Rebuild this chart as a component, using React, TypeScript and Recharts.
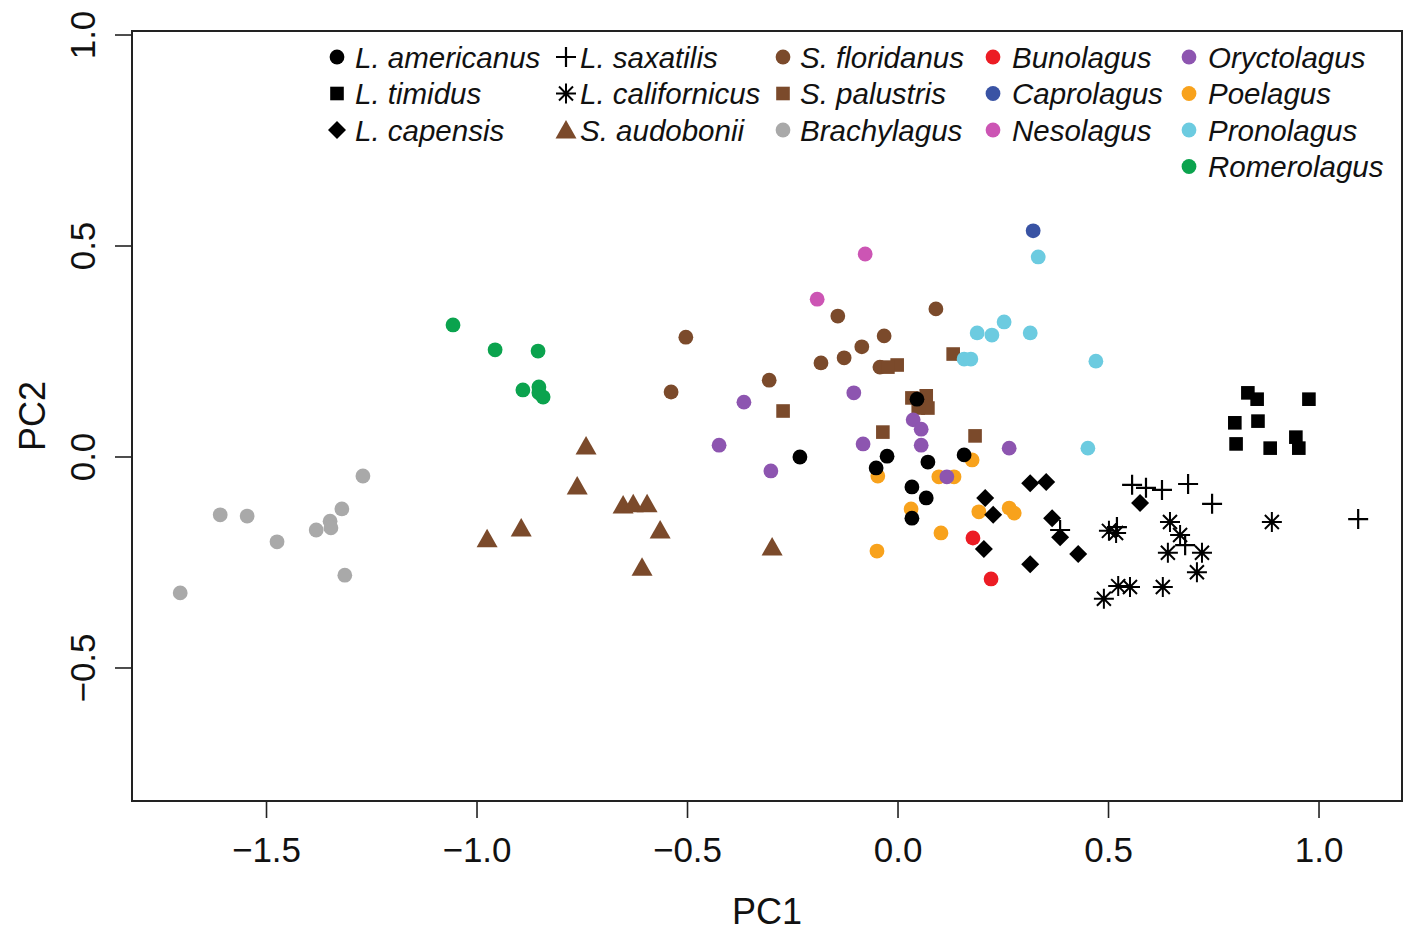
import React from 'react';
import { ScatterChart, Scatter, XAxis, YAxis, Legend, Label, ReferenceArea } from 'recharts';

type Pt = [number, number];

// ---- data (PC1, PC2) ----
const brachylagus: Pt[] = [
  [-1.705, -0.322], [-1.61, -0.137], [-1.546, -0.14], [-1.475, -0.201], [-1.382, -0.173],
  [-1.349, -0.152], [-1.347, -0.168], [-1.321, -0.123], [-1.314, -0.28], [-1.271, -0.045],
];
const romerolagus: Pt[] = [
  [-1.057, 0.313], [-0.957, 0.254], [-0.855, 0.251], [-0.891, 0.159], [-0.853, 0.166],
  [-0.853, 0.152], [-0.843, 0.142],
];
const sAudobonii: Pt[] = [
  [-0.741, 0.026], [-0.762, -0.069], [-0.976, -0.194], [-0.895, -0.168], [-0.653, -0.114],
  [-0.629, -0.111], [-0.596, -0.111], [-0.565, -0.173], [-0.608, -0.261], [-0.299, -0.213],
];
const sFloridanus: Pt[] = [
  [-0.504, 0.284], [-0.539, 0.154], [-0.306, 0.182], [-0.183, 0.223], [-0.143, 0.334],
  [-0.128, 0.235], [-0.086, 0.261], [-0.033, 0.287], [-0.043, 0.213], [0.09, 0.351],
];
const sPalustris: Pt[] = [
  [-0.273, 0.109], [-0.036, 0.059], [-0.002, 0.218], [-0.024, 0.213], [0.131, 0.244],
  [0.033, 0.14], [0.067, 0.145], [0.071, 0.116], [0.048, 0.116], [0.183, 0.05],
];
const bunolagus: Pt[] = [[0.178, -0.192], [0.221, -0.289]];
const caprolagus: Pt[] = [[0.321, 0.536]];
const nesolagus: Pt[] = [[-0.192, 0.374], [-0.078, 0.481]];
const poelagus: Pt[] = [
  [-0.048, -0.045], [-0.05, -0.223], [0.031, -0.123], [0.102, -0.18], [0.097, -0.047],
  [0.133, -0.047], [0.176, -0.007], [0.192, -0.13], [0.264, -0.121], [0.276, -0.133],
];
const oryctolagus: Pt[] = [
  [-0.366, 0.13], [-0.425, 0.028], [-0.302, -0.033], [-0.105, 0.152], [-0.083, 0.031],
  [0.036, 0.088], [0.055, 0.066], [0.055, 0.028], [0.116, -0.047], [0.264, 0.021],
];
const pronolagus: Pt[] = [
  [0.333, 0.474], [0.188, 0.294], [0.223, 0.289], [0.252, 0.32], [0.314, 0.294],
  [0.157, 0.232], [0.173, 0.232], [0.47, 0.227], [0.451, 0.021],
];
const lAmericanus: Pt[] = [
  [-0.233, 0.0], [-0.052, -0.026], [-0.026, 0.002], [0.045, 0.137], [0.033, -0.071],
  [0.067, -0.097], [0.033, -0.145], [0.071, -0.012], [0.157, 0.005],
];
const lTimidus: Pt[] = [
  [0.831, 0.152], [0.853, 0.137], [0.976, 0.137], [0.8, 0.081], [0.855, 0.085],
  [0.945, 0.047], [0.952, 0.021], [0.803, 0.031], [0.884, 0.021],
];
const lCapensis: Pt[] = [
  [0.207, -0.097], [0.226, -0.137], [0.204, -0.218], [0.314, -0.062], [0.352, -0.059],
  [0.366, -0.145], [0.385, -0.19], [0.428, -0.23], [0.314, -0.254], [0.575, -0.109],
];
const lSaxatilis: Pt[] = [
  [0.556, -0.066], [0.589, -0.073], [0.627, -0.078], [0.689, -0.064], [0.746, -0.111],
  [1.093, -0.147], [0.385, -0.173], [0.52, -0.166], [0.682, -0.209],
];
const lCalifornicus: Pt[] = [
  [0.501, -0.175], [0.518, -0.18], [0.646, -0.154], [0.67, -0.185], [0.641, -0.227],
  [0.722, -0.227], [0.71, -0.273], [0.629, -0.308], [0.523, -0.306], [0.551, -0.308],
  [0.489, -0.336], [0.888, -0.154],
];

const xTicks = [-1.5, -1.0, -0.5, 0.0, 0.5, 1.0];
const yTicks = [-0.5, 0.0, 0.5, 1.0];
const X_DOMAIN: [number, number] = [-1.8195, 1.1971];
const Y_DOMAIN: [number, number] = [-0.8152, 1.0095];

const legendColumns: string[][] = [
  ['L. americanus', 'L. timidus', 'L. capensis'],
  ['L. saxatilis', 'L. californicus', 'S. audobonii'],
  ['S. floridanus', 'S. palustris', 'Brachylagus'],
  ['Bunolagus', 'Caprolagus', 'Nesolagus'],
  ['Oryctolagus', 'Poelagus', 'Pronolagus', 'Romerolagus'],
];

// ---- styles ----
const BLACK = '#000000';
const BROWN = '#7b4a2b';
const GRAY = '#a9a9a9';
const RED = '#ec1c24';
const BLUE = '#3953a4';
const MAGENTA = '#cc55b4';
const PURPLE = '#8d55b0';
const ORANGE = '#f8a21c';
const LIGHTBLUE = '#6ccbe0';
const GREEN = '#0ba34e';

type Kind = 'circle' | 'square' | 'diamond' | 'triangle' | 'plus' | 'asterisk';

interface Series {
  name: string;
  pts: Pt[];
  kind: Kind;
  color: string;
}

const series: Series[] = [
  { name: 'Brachylagus', pts: brachylagus, kind: 'circle', color: GRAY },
  { name: 'Romerolagus', pts: romerolagus, kind: 'circle', color: GREEN },
  { name: 'S. audobonii', pts: sAudobonii, kind: 'triangle', color: BROWN },
  { name: 'S. floridanus', pts: sFloridanus, kind: 'circle', color: BROWN },
  { name: 'S. palustris', pts: sPalustris, kind: 'square', color: BROWN },
  { name: 'Bunolagus', pts: bunolagus, kind: 'circle', color: RED },
  { name: 'Caprolagus', pts: caprolagus, kind: 'circle', color: BLUE },
  { name: 'Nesolagus', pts: nesolagus, kind: 'circle', color: MAGENTA },
  { name: 'Poelagus', pts: poelagus, kind: 'circle', color: ORANGE },
  { name: 'Oryctolagus', pts: oryctolagus, kind: 'circle', color: PURPLE },
  { name: 'Pronolagus', pts: pronolagus, kind: 'circle', color: LIGHTBLUE },
  { name: 'L. americanus', pts: lAmericanus, kind: 'circle', color: BLACK },
  { name: 'L. timidus', pts: lTimidus, kind: 'square', color: BLACK },
  { name: 'L. capensis', pts: lCapensis, kind: 'diamond', color: BLACK },
  { name: 'L. saxatilis', pts: lSaxatilis, kind: 'plus', color: BLACK },
  { name: 'L. californicus', pts: lCalifornicus, kind: 'asterisk', color: BLACK },
];

function drawShape(kind: Kind, color: string, cx: number, cy: number, key?: string) {
  switch (kind) {
    case 'circle':
      return <circle key={key} cx={cx} cy={cy} r={7.4} fill={color} />;
    case 'square':
      return <rect key={key} x={cx - 6.8} y={cy - 6.8} width={13.6} height={13.6} fill={color} />;
    case 'diamond':
      return (
        <polygon
          key={key}
          points={`${cx},${cy - 9} ${cx + 9},${cy} ${cx},${cy + 9} ${cx - 9},${cy}`}
          fill={color}
        />
      );
    case 'triangle':
      return (
        <polygon
          key={key}
          points={`${cx},${cy - 10} ${cx + 10.5},${cy + 8.5} ${cx - 10.5},${cy + 8.5}`}
          fill={color}
        />
      );
    case 'plus':
      return (
        <path
          key={key}
          d={`M${cx - 10},${cy}H${cx + 10}M${cx},${cy - 10}V${cy + 10}`}
          stroke={color}
          strokeWidth={2.2}
          fill="none"
        />
      );
    case 'asterisk':
    default:
      return (
        <path
          key={key}
          d={`M${cx - 10},${cy}H${cx + 10}M${cx},${cy - 10}V${cy + 10}M${cx - 7},${cy - 7}L${cx + 7},${cy + 7}M${cx - 7},${cy + 7}L${cx + 7},${cy - 7}`}
          stroke={color}
          strokeWidth={2}
          fill="none"
        />
      );
  }
}

const fmt = (v: number) => v.toFixed(1).replace('-', '\u2212');

const FONT = '"Liberation Sans", Arial, Helvetica, sans-serif';

const XTick = (props: any) => {
  const { x, y, payload } = props;
  return (
    <text x={x} y={y + 44} textAnchor="middle" fontFamily={FONT} fontSize={35} fill="#111">
      {fmt(payload.value)}
    </text>
  );
};

const YTick = (props: any) => {
  const { x, y, payload } = props;
  const bx = x - 20;
  return (
    <text
      x={bx}
      y={y}
      transform={`rotate(-90, ${bx}, ${y})`}
      textAnchor="middle"
      fontFamily={FONT}
      fontSize={35}
      fill="#111"
    >
      {fmt(payload.value)}
    </text>
  );
};

const LEG_SYM_X = [337, 566, 783, 993, 1189];
const LEG_TXT_X = [355, 580, 800, 1012, 1208];
const LEG_ROW_Y = [57, 93.5, 130, 166.5];

const LegendContent = () => {
  const items: React.ReactNode[] = [];
  legendColumns.forEach((col, ci) => {
    col.forEach((name, ri) => {
      const s = series.find((q) => q.name === name)!;
      const cy = LEG_ROW_Y[ri];
      items.push(drawShape(s.kind, s.color, LEG_SYM_X[ci], cy, `s-${name}`));
      items.push(
        <text
          key={`t-${name}`}
          x={LEG_TXT_X[ci]}
          y={cy + 10.5}
          fontFamily={FONT}
          fontStyle="italic"
          fontSize={29.5}
          fill="#111"
        >
          {name}
        </text>
      );
    });
  });
  return (
    <svg width={1416} height={200} style={{ display: 'block' }}>
      {items}
    </svg>
  );
};

export default function App() {
  return (
    <div style={{ position: 'absolute', left: 0, top: 0, width: 1416, height: 934, background: '#fff' }}>
      <ScatterChart width={1416} height={934} margin={{ top: 31, right: 14, left: 0, bottom: 0 }}>
        <XAxis
          type="number"
          dataKey="x"
          domain={X_DOMAIN}
          allowDataOverflow
          ticks={xTicks}
          interval={0}
          height={133}
          tickSize={17}
          tickMargin={0}
          tick={<XTick />}
          axisLine={{ stroke: '#222', strokeWidth: 2 }}
          tickLine={{ stroke: '#222', strokeWidth: 1.6 }}
        >
          <Label
            content={(p: any) => {
              const vb = p.viewBox || {};
              return (
                <text x={vb.x + vb.width / 2} y={924} textAnchor="middle" fontFamily={FONT} fontSize={36} fill="#111">
                  PC1
                </text>
              );
            }}
          />
        </XAxis>
        <YAxis
          type="number"
          dataKey="y"
          domain={Y_DOMAIN}
          allowDataOverflow
          ticks={yTicks}
          interval={0}
          width={132}
          tickSize={17}
          tickMargin={0}
          tick={<YTick />}
          axisLine={{ stroke: '#222', strokeWidth: 2 }}
          tickLine={{ stroke: '#222', strokeWidth: 1.6 }}
        >
          <Label
            content={() => {
              const cy = 416;
              return (
                <text
                  x={45}
                  y={cy}
                  transform={`rotate(-90, 45, ${cy})`}
                  textAnchor="middle"
                  fontFamily={FONT}
                  fontSize={36}
                  fill="#111"
                >
                  PC2
                </text>
              );
            }}
          />
        </YAxis>
        <ReferenceArea
          x1={X_DOMAIN[0]}
          x2={X_DOMAIN[1]}
          y1={Y_DOMAIN[0]}
          y2={Y_DOMAIN[1]}
          fill="none"
          fillOpacity={0}
          stroke="#222"
          strokeWidth={2}
          ifOverflow="visible"
        />
        <Legend
          layout="horizontal"
          verticalAlign="middle"
          align="center"
          content={<LegendContent />}
          wrapperStyle={{ position: 'absolute', left: 0, top: 0, width: 1416, height: 200 }}
        />
        {series.map((s) => (
          <Scatter
            key={s.name}
            name={s.name}
            data={s.pts.map(([x, y]) => ({ x, y }))}
            isAnimationActive={false}
            shape={(p: any) => drawShape(s.kind, s.color, p.cx, p.cy)}
          />
        ))}
      </ScatterChart>
    </div>
  );
}
